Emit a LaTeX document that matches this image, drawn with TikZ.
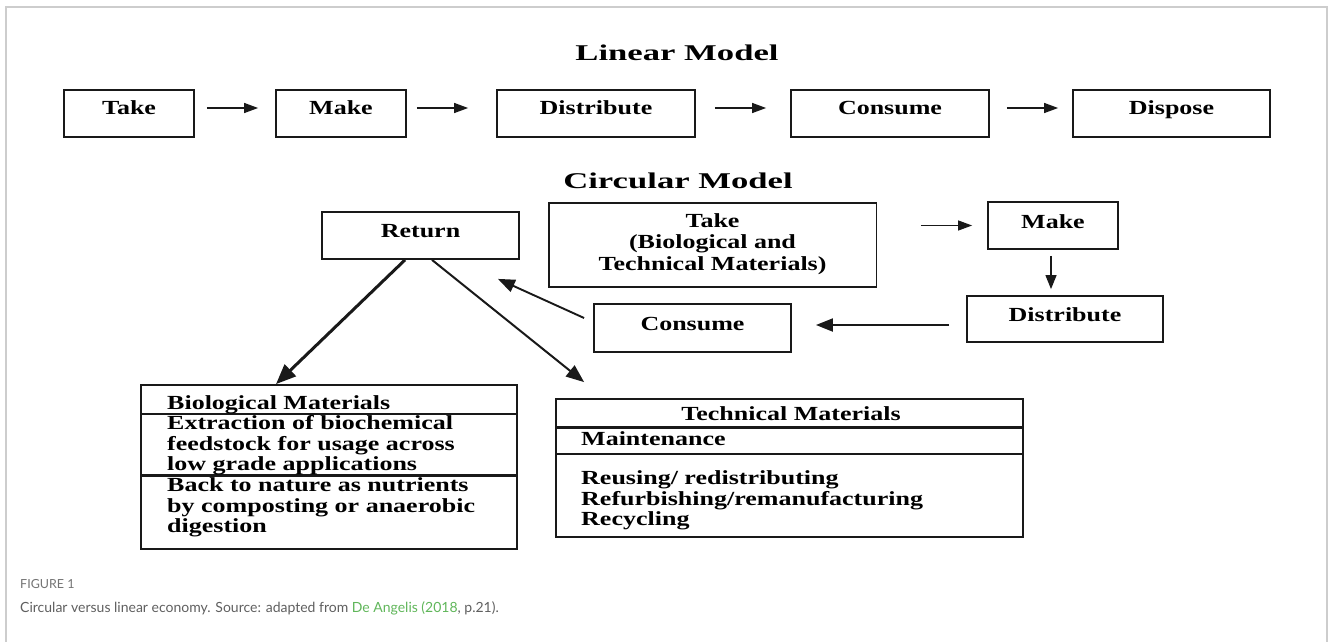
\documentclass[tikz,border=0pt]{standalone}
\usepackage{fontspec}
\usetikzlibrary{arrows.meta}
\newfontfamily\boxfont[FakeStretch=1.3]{Liberation Serif}
\newfontfamily\headfont[FakeStretch=1.54]{Liberation Serif}
\newfontfamily\capfont{Lato}
\definecolor{framegray}{RGB}{205,205,205}
\definecolor{capgray}{RGB}{95,95,95}
\definecolor{figgray}{RGB}{115,115,115}
\definecolor{linkgreen}{RGB}{96,182,90}
\definecolor{ink}{RGB}{25,25,25}

\begin{document}
\begin{tikzpicture}[x=1pt, y=-1pt,
  box/.style={draw=ink, line width=1.8pt, inner sep=0pt},
  boxtext/.style={font=\boxfont\bfseries\fontsize{20}{20.5}\selectfont, inner sep=0pt, anchor=base, text=black},
  % multi-line blocks are placed by the baseline of their last line
  listtext/.style={boxtext, anchor=base west, align=left},
  headtext/.style={font=\headfont\bfseries\fontsize{22.5}{26}\selectfont, inner sep=0pt, anchor=base, text=black},
  flow/.style={draw=ink, line width=1.4pt, -{Triangle[length=14pt, width=10pt]}},
  bigflow/.style={draw=ink, line width=1.9pt, -{Triangle[length=17pt, width=13pt]}},
]
\useasboundingbox (0,0) rectangle (1330,642);

% outer frame, open at the bottom
\draw[framegray, line width=1.5pt] (6,642) -- (6,7) -- (1327,7) -- (1327,642);

% ---------- linear model ----------
\node[headtext] (lintitle) at (677,60) {Linear Model};

\node[box, minimum width=130pt, minimum height=47pt] (ltake) at (129,113.5) {};
\node[box, minimum width=130pt, minimum height=47pt] (lmake) at (341,113.5) {};
\node[box, minimum width=198pt, minimum height=47pt] (ldist) at (596,113.5) {};
\node[box, minimum width=198pt, minimum height=47pt] (lcons) at (890,113.5) {};
\node[box, minimum width=197pt, minimum height=47pt] (ldisp) at (1171.5,113.5) {};

\node[boxtext] (ltake-t) at (129,114) {Take};
\node[boxtext] (lmake-t) at (341,114) {Make};
\node[boxtext] (ldist-t) at (596,114) {Distribute};
\node[boxtext] (lcons-t) at (890,114) {Consume};
\node[boxtext] (ldisp-t) at (1171.5,114) {Dispose};

\draw[flow, shorten <=12pt, shorten >=17pt] ([yshift=5.5pt]ltake.east) -- ([yshift=5.5pt]lmake.west);
\draw[flow, shorten <=10pt, shorten >=28pt] ([yshift=5.5pt]lmake.east) -- ([yshift=5.5pt]ldist.west);
\draw[flow, shorten <=19pt, shorten >=24pt] ([yshift=5.5pt]ldist.east) -- ([yshift=5.5pt]lcons.west);
\draw[flow, shorten <=17pt, shorten >=14pt] ([yshift=5.5pt]lcons.east) -- ([yshift=5.5pt]ldisp.west);

% ---------- circular model ----------
\node[headtext] (circtitle) at (678,188) {Circular Model};

\node[box, minimum width=197pt, minimum height=47pt] (ret) at (420.5,235.5) {};
\node[box, minimum width=327.5pt, minimum height=84pt] (ctake) at (712.75,245) {};
\node[box, minimum width=130pt, minimum height=47pt] (cmake) at (1053,225.5) {};
\node[box, minimum width=196pt, minimum height=46pt] (cdist) at (1065,319) {};
\node[box, minimum width=197pt, minimum height=48pt] (ccons) at (692.5,328) {};

\node[boxtext] (ret-t) at (420.5,237) {Return};
\node[boxtext] (ctake-t1) at (712.5,227) {Take};
\node[boxtext] (ctake-t2) at (712.5,248.5) {(Biological and};
\node[boxtext] (ctake-t3) at (712.5,270) {Technical Materials)};
\node[boxtext] (cmake-t) at (1053,228) {Make};
\node[boxtext] (cdist-t) at (1065,321) {Distribute};
\node[boxtext] (ccons-t) at (692.5,330) {Consume};

\draw[draw=ink, line width=1.2pt, -{Triangle[length=14pt, width=10pt]}, shorten <=43.5pt, shorten >=15pt]
  (ctake.east |- cmake.west) -- (cmake.west);
\draw[draw=ink, line width=1.2pt, -{Triangle[length=14pt, width=11pt]}, shorten <=6pt, shorten >=6pt]
  ([xshift=-2pt]cmake.south) -- ([xshift=-2pt]cmake.south |- cdist.north);
\draw[bigflow, shorten <=17pt, shorten >=24pt] ([yshift=-6pt]cdist.west) -- ([yshift=3pt]ccons.east);
\draw[bigflow] ([xshift=-9pt, yshift=10pt]ccons.west) -- ([xshift=-22pt, yshift=-19pt]ret.south east);

% ---------- material boxes ----------
\node[box, minimum width=376pt, minimum height=164pt] (bio) at (329,467) {};
\draw[draw=ink, line width=1.4pt] ([yshift=-30pt]bio.north west) -- ([yshift=-30pt]bio.north east);
\draw[draw=ink, line width=3pt] ([yshift=-91pt]bio.north west) -- ([yshift=-91pt]bio.north east);
\node[listtext] (bio-h) at (167,409) {Biological Materials};
\node[listtext] (bio-a) at (167,470.5) {Extraction of biochemical\\feedstock for usage across\\low grade applications};
\node[listtext] (bio-b) at (167,532.5) {Back to nature as nutrients\\by composting or anaerobic\\digestion};

\node[box, minimum width=467pt, minimum height=138pt] (tech) at (789.5,468) {};
\draw[draw=ink, line width=3pt] ([yshift=-29pt]tech.north west) -- ([yshift=-29pt]tech.north east);
\draw[draw=ink, line width=1.4pt] ([yshift=-56pt]tech.north west) -- ([yshift=-56pt]tech.north east);
\node[boxtext] (tech-h) at (791,420) {Technical Materials};
\node[listtext] (tech-a) at (581,445) {Maintenance};
\node[listtext] (tech-b) at (581,525.5) {Reusing/ redistributing\\Refurbishing/remanufacturing\\Recycling};

\draw[draw=ink, line width=3pt, -{Triangle[length=20pt, width=16pt]}]
  ([xshift=-15.5pt]ret.south) -- ([xshift=-53pt]bio.north);
\draw[draw=ink, line width=2pt, -{Triangle[length=18pt, width=14pt]}]
  ([xshift=11.5pt]ret.south) -- ([xshift=29pt, yshift=16pt]tech.north west);

% ---------- caption ----------
\node[font=\capfont\fontsize{12.5}{14}\selectfont, text=figgray, inner sep=0pt, anchor=base west] (fig) at (20,588) {FIGURE 1};
\node[font=\capfont\fontsize{14}{16}\selectfont, text=capgray, inner sep=0pt, anchor=base west] (cap) at (20,612)
  {Circular versus linear economy. Source: adapted from \textcolor{linkgreen}{De Angelis (2018}, p.21).};
\end{tikzpicture}
\end{document}
